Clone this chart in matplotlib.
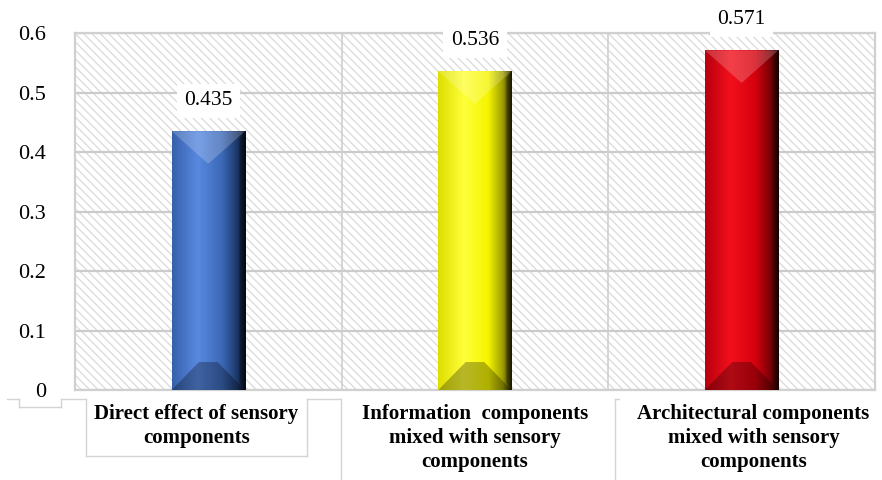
import numpy as np
import matplotlib.pyplot as plt
from matplotlib.colors import LinearSegmentedColormap
from matplotlib.patches import Rectangle, Polygon
from matplotlib.lines import Line2D
import matplotlib.transforms as mtransforms

plt.rcParams['font.family'] = ['Liberation Serif', 'DejaVu Serif']
plt.rcParams['hatch.linewidth'] = 0.9
plt.rcParams['hatch.color'] = '#dadada'

# values
categories = ['Direct effect of sensory\ncomponents',
              'Information  components\nmixed with sensory\ncomponents',
              'Architectural components\nmixed with sensory\ncomponents']
values = [0.435, 0.536, 0.571]
value_labels = ['0.435', '0.536', '0.571']
yticks = [0, 0.1, 0.2, 0.3, 0.4, 0.5, 0.6]
ytick_labels = ['0', '0.1', '0.2', '0.3', '0.4', '0.5', '0.6']

# shading for each bar, left edge -> highlight -> body -> dark right edge
shades = [
    ['#3760aa', '#5889e0', '#3c68b6', '#1c386a', '#040a16'],
    ['#dede00', '#ffff3a', '#f5f500', '#9c9c00', '#1c1c00'],
    ['#b8000e', '#f2101c', '#d5000e', '#7c0006', '#1c0000'],
]
stops = [0, 0.35, 0.68, 0.88, 1]
label_shift = [-0.045, 0, 0.045]

fig = plt.figure(figsize=(8.82, 4.8), dpi=100)
ax = fig.add_axes([0.085, 0.1875, 0.907, 0.7435])

x = np.arange(len(values))
w = 0.275

# hatched plot background
ax.add_patch(Rectangle((0, 0), 1, 1, transform=ax.transAxes, facecolor='white',
                       hatch='\\\\\\\\', edgecolor='#dadada', linewidth=0, zorder=0))

ax.set_xlim(-0.5, 2.5)
ax.set_ylim(0, 0.6)
ax.set_yticks(yticks)
ax.set_yticklabels(ytick_labels, fontsize=16)
ax.tick_params(axis='y', length=0, pad=21)
ax.set_xticks([])
ax.grid(axis='y', color='#cbcbcb', linewidth=1.6, zorder=1)
for xb in [0.5, 1.5]:
    ax.axvline(xb, color='#cfcfcf', linewidth=1.2, zorder=1)
for sp in ax.spines.values():
    sp.set_color('#d0d0d0')
    sp.set_linewidth(1.6)
ax.set_axisbelow(True)

bars = ax.bar(x, values, width=w, color='none', edgecolor='none', zorder=2)
grad = np.linspace(0, 1, 256).reshape(1, -1)
top_d = 0.054
bot_d = 0.047
for i, b in enumerate(bars):
    x0 = b.get_x()
    x1 = x0 + b.get_width()
    h = b.get_height()
    cmap = LinearSegmentedColormap.from_list('bar%d' % i, list(zip(stops, shades[i])))
    im = ax.imshow(grad, cmap=cmap, extent=(x0, x1, 0, h), aspect='auto',
                   interpolation='bilinear', zorder=3)
    im.set_clip_path(b)
    xc = (x0 + x1) / 2
    # top bevel
    ax.add_patch(Polygon([(x0, h), (x1, h), (xc + 0.002, h - top_d), (xc - 0.002, h - top_d)],
                         closed=True, facecolor='white', alpha=0.2, edgecolor='none', zorder=4))
    ax.add_patch(Polygon([(x1, h), (x1 - 0.02, h - 0.012), (x1 - 0.02, 0.012), (x1, 0)],
                         closed=True, facecolor='black', alpha=0.25, edgecolor='none', zorder=4))
    # bottom bevel
    ax.add_patch(Polygon([(x0, 0), (x1, 0), (xc + 0.035, bot_d), (xc - 0.035, bot_d)],
                         closed=True, facecolor='black', alpha=0.28, edgecolor='none', zorder=4))
    ax.annotate(value_labels[i], (b.get_x() + b.get_width() / 2, h), xytext=(0, 22),
                textcoords='offset points', ha='center', va='center', fontsize=15.5,
                bbox=dict(boxstyle='square,pad=0.35', facecolor='white', edgecolor='none'),
                zorder=6)

# category labels below the axis
trans = mtransforms.blended_transform_factory(ax.transData, ax.transAxes)
for i, lab in enumerate(categories):
    ax.text(x[i] + label_shift[i], -0.038, lab, transform=trans, ha='center', va='top',
            fontsize=15, fontweight='bold', linespacing=1.28, multialignment='center')

# light frame lines around the label area
lc = '#d4d4d4'
lw = 1.0
segs = [
    ([-0.085, -0.07], [-0.026, -0.026]),
    ([-0.07, -0.07], [-0.026, -0.048]),
    ([-0.07, -0.017], [-0.048, -0.048]),
    ([-0.017, -0.017], [-0.048, -0.026]),
    ([-0.017, 0.014], [-0.026, -0.026]),
    ([0.014, 0.014], [-0.026, -0.184]),
    ([0.014, 0.29], [-0.184, -0.184]),
    ([0.29, 0.29], [-0.184, -0.026]),
    ([0.29, 0.333], [-0.026, -0.026]),
    ([0.333, 0.333], [-0.026, -0.26]),
    ([0.675, 0.675], [-0.026, -0.26]),
    ([0.675, 0.68], [-0.026, -0.026]),
]
for sx, sy in segs:
    ax.add_line(Line2D(sx, sy, transform=ax.transAxes, color=lc, linewidth=lw, clip_on=False))

fig.savefig('out.png', dpi=100)
